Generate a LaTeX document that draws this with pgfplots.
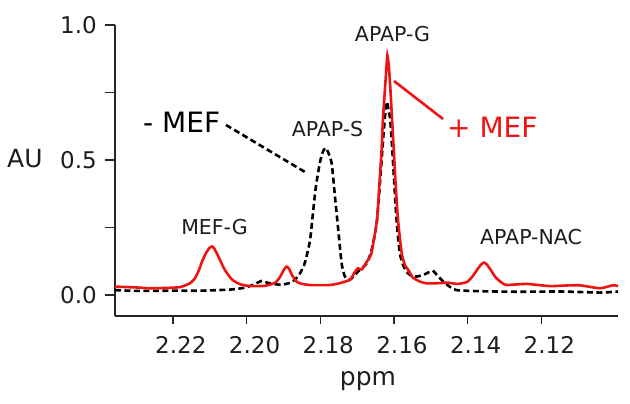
\documentclass[border=0pt]{standalone}
\usepackage{pgfplots}
\pgfplotsset{compat=1.18}
\usepackage{fontspec}
\setmainfont{DejaVu Sans}
\definecolor{specred}{RGB}{238,20,20}
\definecolor{txt}{RGB}{30,30,30}
\begin{document}
\begin{tikzpicture}
\path[use as bounding box] (0,0) rectangle (630bp,404bp);
\begin{axis}[
  at={(115bp,88bp)}, anchor=south west,
  scale only axis, width=503bp, height=291bp,
  x dir=reverse,
  xmin=2.0992, xmax=2.2357, ymin=-0.0778, ymax=1.0,
  axis x line*=bottom, axis y line*=left,
  axis line style={-, line width=1.4bp, black!85},
  major tick length=0bp,
  xtick={2.12,2.14,2.16,2.18,2.20,2.22},
  ytick={0,0.5,1},
  /pgf/number format/assume math mode=true,
  xticklabel style={font=\fontsize{23bp}{27bp}\selectfont, text=txt,
    anchor=north, inner sep=0pt, yshift=-20bp, xshift=8bp,
    /pgf/number format/.cd, fixed, fixed zerofill, precision=2},
  yticklabel style={font=\fontsize{23bp}{27bp}\selectfont, text=txt,
    anchor=east, inner sep=0pt, xshift=-18bp,
    /pgf/number format/.cd, fixed, fixed zerofill, precision=1},
  clip=false,
]
% - MEF (black dashed)
\addplot[black, line width=2.6bp, dash pattern=on 6bp off 3.5bp, smooth, tension=0.35] coordinates {
(2.2357,0.018) (2.2290,0.015) (2.2208,0.016) (2.2127,0.016) (2.2045,0.020)
(2.2005,0.027) (2.1978,0.040) (2.1959,0.052) (2.1942,0.045) (2.1923,0.040)
(2.1904,0.038) (2.1882,0.045) (2.1869,0.056) (2.1855,0.080) (2.1842,0.118)
(2.1828,0.200) (2.1820,0.300) (2.1812,0.400) (2.1801,0.490) (2.1793,0.530)
(2.1786,0.545) (2.1779,0.530) (2.1769,0.488) (2.1760,0.364) (2.1751,0.240)
(2.1742,0.117) (2.1733,0.068) (2.1720,0.056) (2.1698,0.086) (2.1674,0.117)
(2.1660,0.170) (2.1646,0.278) (2.1632,0.526) (2.1628,0.600) (2.1623,0.680)
(2.1619,0.716) (2.1614,0.680) (2.1610,0.648) (2.1604,0.526) (2.1593,0.278)
(2.1584,0.155) (2.1575,0.110) (2.1566,0.086) (2.1554,0.072) (2.1539,0.068)
(2.1516,0.077) (2.1495,0.090) (2.1481,0.070) (2.1466,0.050) (2.1448,0.030)
(2.1430,0.018) (2.1367,0.014) (2.1258,0.012) (2.1150,0.013) (2.1041,0.009)
(2.0992,0.013)
};
% + MEF (red solid)
\addplot[specred, line width=2.6bp, smooth, tension=0.35] coordinates {
(2.2357,0.031) (2.2300,0.028) (2.2262,0.025) (2.2222,0.026) (2.2181,0.029)
(2.2154,0.043) (2.2140,0.062) (2.2129,0.093) (2.2119,0.130) (2.2108,0.160)
(2.2100,0.175) (2.2094,0.180) (2.2089,0.175) (2.2081,0.155) (2.2072,0.130)
(2.2059,0.093) (2.2040,0.058) (2.2018,0.040) (2.1991,0.033) (2.1950,0.034)
(2.1923,0.045) (2.1910,0.065) (2.1901,0.088) (2.1892,0.105) (2.1885,0.098)
(2.1877,0.075) (2.1866,0.052) (2.1855,0.043) (2.1828,0.037) (2.1774,0.037)
(2.1747,0.044) (2.1720,0.056) (2.1706,0.085) (2.1698,0.099) (2.1687,0.095)
(2.1674,0.123) (2.1661,0.155) (2.1646,0.278) (2.1640,0.401) (2.1634,0.526)
(2.1630,0.648) (2.1624,0.771) (2.1620,0.850) (2.1618,0.889) (2.1614,0.850)
(2.1610,0.771) (2.1605,0.648) (2.1600,0.526) (2.1595,0.401) (2.1589,0.278)
(2.1579,0.155) (2.1570,0.110) (2.1561,0.093) (2.1549,0.065) (2.1530,0.050)
(2.1511,0.043) (2.1475,0.044) (2.1456,0.046) (2.1427,0.041) (2.1402,0.048)
(2.1389,0.065) (2.1375,0.092) (2.1364,0.112) (2.1356,0.120) (2.1348,0.113)
(2.1337,0.092) (2.1324,0.065) (2.1307,0.045) (2.1294,0.037) (2.1240,0.041)
(2.1177,0.033) (2.1136,0.035) (2.1096,0.036) (2.1041,0.025) (2.1006,0.036)
(2.0992,0.033)
};
\end{axis}
% outside tick marks, drawn on top
\foreach \xx in {172.9,246.6,320.3,394.0,467.7,541.4}
  \draw[line width=1.4bp, black!85] (\xx bp,88bp) -- (\xx bp,79.5bp);
\foreach \yy in {109.0,176.5,244.0,311.5,379.0}
  \draw[line width=1.4bp, black!85] (115bp,\yy bp) -- (105bp,\yy bp);
% labels and annotations
\node[anchor=base west, inner sep=0, text=txt, font=\fontsize{25bp}{30bp}\selectfont] at (7bp,236bp) {AU};
\node[anchor=base, inner sep=0, text=txt, font=\fontsize{25bp}{30bp}\selectfont] at (368bp,19bp) {ppm};
\node[anchor=base west, inner sep=0, text=black, font=\fontsize{28bp}{33bp}\selectfont] at (143bp,271bp) {- MEF};
\draw[black, line width=2.6bp, dash pattern=on 6bp off 3.5bp] (226bp,279bp) -- (305bp,232bp);
\node[anchor=base, inner sep=0, text=txt, font=\fontsize{20.5bp}{24bp}\selectfont] at (327.5bp,267bp) {APAP-S};
\node[anchor=base, inner sep=0, text=txt, font=\fontsize{20.5bp}{24bp}\selectfont] at (392.5bp,362.3bp) {APAP-G};
\draw[specred, line width=2.6bp] (394bp,323bp) -- (443bp,285bp);
\node[anchor=base west, inner sep=0, text=specred, font=\fontsize{28bp}{33bp}\selectfont] at (447bp,266bp) {+ MEF};
\node[anchor=base, inner sep=0, text=txt, font=\fontsize{20.5bp}{24bp}\selectfont] at (214.5bp,169bp) {MEF-G};
\node[anchor=base, inner sep=0, text=txt, font=\fontsize{20.5bp}{24bp}\selectfont] at (531bp,159bp) {APAP-NAC};
\end{tikzpicture}
\end{document}
